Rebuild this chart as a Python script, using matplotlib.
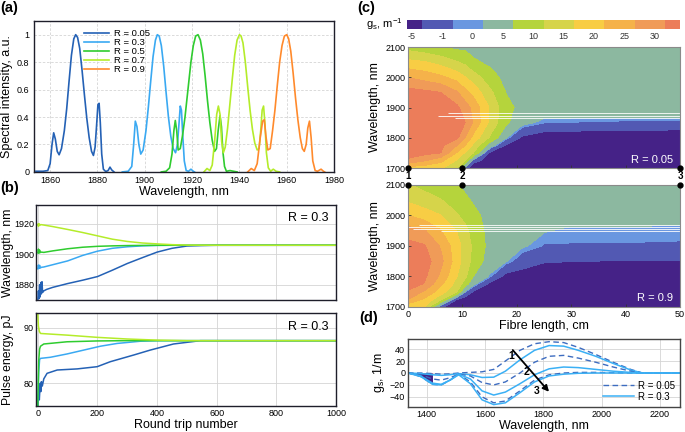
import numpy as np
import matplotlib
matplotlib.use("Agg")
import matplotlib.pyplot as plt
from matplotlib.transforms import offset_copy

plt.rcParams['font.family'] = ['Liberation Sans', 'DejaVu Sans']
plt.rcParams['mathtext.fontset'] = 'custom'
plt.rcParams['mathtext.rm'] = 'Liberation Sans'
plt.rcParams['axes.linewidth'] = 1.0

# ---------------- (a) spectra ----------------
spec_labels = ['R = 0.05', 'R = 0.3', 'R = 0.5', 'R = 0.7', 'R = 0.9']
spec_colors = ['#2461b5', '#3aa9f2', '#2fcc2f', '#b4ec2a', '#ff8a2c']

wl_r005 = [1854, 1857, 1859, 1860, 1860.8, 1861.5, 1862.2, 1863, 1863.8, 1864.8, 1866, 1867, 1868,
           1869, 1870, 1870.8, 1871.6, 1872.5, 1873.5, 1874.5, 1875.5, 1876.5, 1877.5, 1878.3, 1879,
           1879.6, 1880.2, 1880.7, 1881.2, 1881.8, 1882.5, 1883.5, 1884.5, 1885.3, 1886, 1887]
in_r005 = [0.005, 0.005, 0.01, 0.06, 0.2, 0.285, 0.24, 0.15, 0.125, 0.17, 0.3, 0.46, 0.66,
           0.85, 0.97, 1.0, 0.98, 0.9, 0.74, 0.56, 0.39, 0.25, 0.15, 0.12, 0.18,
           0.33, 0.49, 0.5, 0.36, 0.13, 0.02, 0.003, 0.01, 0.035, 0.015, 0.0]

wl_r03 = [1890.5, 1893, 1894.5, 1895.3, 1896, 1896.7, 1897.5, 1898.3, 1899.3, 1900.5, 1901.5, 1902.5,
          1903.5, 1904.5, 1905.3, 1906.1, 1907, 1908, 1909, 1910, 1911, 1912, 1913, 1913.8, 1914.5,
          1915, 1915.5, 1916, 1916.7, 1917.5, 1918.5, 1919.5, 1920.5, 1921]
in_r03 = [0.0, 0.005, 0.04, 0.2, 0.37, 0.33, 0.2, 0.13, 0.16, 0.3, 0.47, 0.66,
          0.84, 0.96, 1.0, 0.99, 0.92, 0.77, 0.58, 0.4, 0.26, 0.17, 0.14, 0.2, 0.36,
          0.48, 0.45, 0.28, 0.08, 0.01, 0.005, 0.02, 0.005, 0.0]

wl_r05 = [1907, 1909, 1910.5, 1911.5, 1912.3, 1912.9, 1913.5, 1914.1, 1915, 1916, 1917, 1918, 1919.5,
          1920.5, 1921.5, 1922.5, 1923.5, 1924.5, 1925.5, 1926.5, 1927.5, 1928.5, 1929.5, 1930.3,
          1931, 1931.8, 1932.4, 1933, 1933.7, 1934.5, 1936, 1937.5, 1939]
in_r05 = [0.0, 0.005, 0.03, 0.13, 0.3, 0.375, 0.3, 0.16, 0.17, 0.27, 0.4, 0.56, 0.8,
          0.92, 0.99, 1.0, 0.96, 0.86, 0.7, 0.52, 0.36, 0.23, 0.15, 0.17,
          0.3, 0.41, 0.33, 0.15, 0.04, 0.005, 0.01, 0.005, 0.0]

wl_r07 = [1925, 1926.3, 1927.5, 1928.5, 1929.5, 1930.4, 1931.1, 1931.8, 1932.5, 1933.2, 1934, 1935,
          1936, 1937, 1938, 1939, 1940, 1940.7, 1941.5, 1942.5, 1943.5, 1944.5, 1945.5, 1946.5,
          1947.5, 1948.3, 1949, 1949.6, 1950.2, 1950.8, 1951.4, 1952.2, 1953.2, 1954.3, 1955.5, 1957]
in_r07 = [0.0, 0.025, 0.01, 0.05, 0.22, 0.42, 0.48, 0.42, 0.22, 0.14, 0.18, 0.32,
          0.5, 0.68, 0.85, 0.96, 1.0, 0.99, 0.94, 0.8, 0.62, 0.45, 0.31, 0.21,
          0.16, 0.17, 0.3, 0.45, 0.48, 0.35, 0.14, 0.03, 0.005, 0.02, 0.005, 0.0]

wl_r09 = [1943.5, 1945, 1946.3, 1947.5, 1948.8, 1949.8, 1950.5, 1951.2, 1952, 1953, 1954, 1955,
          1956, 1957, 1958, 1959, 1960, 1960.8, 1961.7, 1962.7, 1963.7, 1964.7, 1965.7, 1966.6,
          1967.4, 1968.2, 1968.9, 1969.6, 1970.3, 1971, 1972, 1973, 1974.5, 1975.5, 1976]
in_r09 = [0.0, 0.025, 0.01, 0.06, 0.25, 0.37, 0.38, 0.26, 0.16, 0.17, 0.3, 0.45,
          0.63, 0.8, 0.92, 0.99, 1.0, 0.97, 0.88, 0.72, 0.54, 0.38, 0.25, 0.17,
          0.15, 0.2, 0.32, 0.37, 0.25, 0.08, 0.01, 0.005, 0.02, 0.005, 0.0]

# ---------------- (b) evolution over round trips ----------------
evo_colors = ['#2461b5', '#3aa9f2', '#2fcc2f', '#b4ec2a']

rt_wl_dark = [0, 2, 4, 6, 8, 10, 12, 14, 16, 20, 30, 50, 100, 150, 200, 250, 300, 350, 400, 450, 500, 550, 600, 1000]
wl_dark = [1870, 1876, 1871, 1880, 1872, 1881.5, 1874, 1882, 1875, 1876, 1877, 1878.3, 1880.8, 1883,
           1885.4, 1889.6, 1894, 1897.8, 1901.5, 1904, 1905.5, 1905.8, 1906, 1906]
rt_wl_light = [0, 2, 4, 6, 8, 12, 20, 50, 100, 150, 200, 250, 300, 350, 400, 450, 500, 1000]
wl_light = [1890.5, 1893, 1890.8, 1892.8, 1891, 1891.5, 1891.7, 1893.2, 1895.7, 1899.3, 1902.1,
            1904, 1905, 1905.6, 1905.9, 1906, 1906, 1906]
rt_wl_green = [0, 2, 4, 6, 8, 12, 20, 50, 100, 150, 200, 250, 300, 400, 500, 1000]
wl_green = [1901, 1903.5, 1900.8, 1902.8, 1901.2, 1901.5, 1901.3, 1902.3, 1903.7, 1904.7, 1905.3,
            1905.6, 1905.8, 1906, 1906, 1906]
rt_wl_lime = [0, 2, 4, 6, 10, 20, 50, 100, 150, 200, 250, 300, 350, 400, 450, 500, 600, 1000]
wl_lime = [1919.8, 1918.5, 1920.2, 1919, 1919.6, 1919.3, 1918.3, 1916.4, 1914.4, 1912.2, 1910,
           1908.5, 1907.5, 1906.9, 1906.4, 1906.1, 1906, 1906]

rt_en_dark = [0, 3, 5, 8, 10, 12, 15, 20, 31, 65, 132, 199, 243, 321, 377, 455, 545, 600, 1000]
en_dark = [76, 78, 77, 80, 78.5, 80.3, 79.5, 80.8, 81.8, 82.4, 82.6, 83, 83.9, 85.1, 86, 87.1, 87.7, 87.7, 87.7]
rt_en_light = [0, 3, 6, 9, 42, 98, 154, 210, 266, 344, 400, 1000]
en_light = [76, 82, 84.3, 84.5, 84.7, 85.3, 86, 86.7, 87.2, 87.6, 87.7, 87.7]
rt_en_green = [0, 3, 6, 9, 20, 98, 200, 300, 1000]
en_green = [75.9, 84, 86.2, 86.7, 87.1, 87.5, 87.65, 87.7, 87.7]
rt_en_lime = [0, 2, 5, 9, 98, 199, 300, 400, 500, 1000]
en_lime = [92.5, 90.3, 89.4, 89, 88.7, 88.3, 88, 87.8, 87.7, 87.7]

# ---------------- (c) gain maps ----------------
g_levels = [-5, -1, 0, 5, 10, 15, 20, 25, 30]
g_colors = ['#452287', '#5259b3', '#6a97e0', '#8cb8a0', '#b5d43c', '#d6d44a',
            '#f8cd44', '#f5b24a', '#f09b58', '#ec7d5a']
len_cm = [0, 3, 6, 9, 10.5, 12, 15, 18, 21, 25, 30, 40, 50]
wl_nm = [1700, 1725, 1750, 1775, 1800, 1850, 1900, 1950, 2000, 2050, 2100]

g_r005 = [
    [18, 17, 16, 10, -1.5, -10, -10, -10, -10, -10, -10, -10, -10],
    [29, 25.5, 21.5, 14.5, 10, -2, -8, -10, -10, -10, -10, -10, -10],
    [32.5, 31.5, 30, 19.5, 14.5, 10, -5.5, -8, -9, -10, -10, -10, -10],
    [34, 33, 31.5, 25, 20, 14, 2.5, -5.5, -7, -9.5, -9.5, -9.5, -9.5],
    [35, 34.5, 33.5, 31, 25, 18.3, 9.5, 0.3, -5.8, -7.7, -8.06, -8.2, -8.5],
    [35.5, 35, 34, 32.5, 30, 24.5, 14, 6, 1.2, -0.9, -1.1, -1.5, -1.8],
    [34.5, 34, 32.5, 31, 27.5, 23.5, 14.6, 6.5, 3.5, 2.3, 2.5, 2.7, 3.2],
    [32, 31.2, 30, 25.5, 21.5, 18.5, 11.3, 4.9, 3, 3, 3, 3, 3],
    [24.8, 23, 21.1, 18, 15.2, 12.5, 7.1, 3.5, 3, 3, 3, 3, 3],
    [16.3, 15.4, 13.2, 10.3, 8.8, 5.8, 4.0, 3, 3, 3, 3, 3, 3],
    [8, 6.5, 5.1, 3.8, 3.8, 3.2, 3, 3, 3, 3, 3, 3, 3],
]
g_r09 = [
    [16, 15, -3.5, -10, -10, -10, -10, -10, -10, -10, -10, -10, -10],
    [25, 19.2, 11.2, -5, -7, -9, -10, -10, -10, -10, -10, -10, -10],
    [29.5, 24.4, 17.6, 10, -0.5, -5.3, -9, -10, -10, -10, -10, -10, -10],
    [32, 29.7, 21, 13, 7.5, 1, -6, -9, -9, -10, -10, -10, -10],
    [33.5, 31, 24, 15, 11, 5, -0.5, -6.5, -7, -8.5, -9, -9, -9],
    [34, 32.5, 26.5, 17.2, 12.5, 8.6, 2.5, 0.2, -2.8, -4.6, -4.9, -5.2, -5.3],
    [32, 30.5, 24.5, 16.9, 13, 9.1, 3.5, 2.5, 0.4, -1.2, -1.1, -1.1, -1.15],
    [27, 25.5, 20.3, 14.8, 11.5, 7.8, 3.5, 3, 2.5, 0.2, -0.6, -0.65, -0.7],
    [20, 17.6, 15.2, 10.5, 8.2, 6.2, 3.5, 3, 2.8, 2, 1.5, 1.5, 1.5],
    [14.2, 12.2, 10.3, 7.5, 6, 4.5, 3, 3, 3, 2.5, 2.5, 2.5, 2.5],
    [10.5, 8.5, 6.8, 5.3, 3.8, 3, 3, 3, 3, 3, 3, 3, 3],
]
# thin white contour traces near the lasing wavelength
white_y_r005 = [1881, 1873, 1866]
white_x0_r005 = [7.4, 5.5, 8.6]
white_y_r09 = [1968, 1962, 1955, 1949]
white_x0_r09 = [2, 0, 1, 6]
point_pos = [0, 10, 50]
point_lbl = ['1', '2', '3']

# ---------------- (d) gain profiles ----------------
wl_d = [1336, 1380, 1420, 1450, 1480, 1510, 1550, 1590, 1630, 1670, 1720, 1770, 1820, 1870,
        1920, 1980, 2040, 2100, 2140, 2270]
gd_r005_1 = [0, 0, -1, -2, -1.5, 0, 1, 2, 6, 20, 38, 49, 52.5, 51, 43, 31, 18, 6, 0, 0]
gd_r03_1 = [0, -1, -3, -4, -3, -1, -3, -7.5, -7, 3, 22, 38, 46, 45, 38, 28, 16, 5, 0, 0]
gd_r005_2 = [0, -3, -10, -12, -8, -2, -5, -16, -20, -15, 0, 18, 28, 29.5, 25, 18, 10, 3, 0, 0]
gd_r03_2 = [0, -5, -17, -19, -12, -2, -10, -30, -37, -32, -18, -3, 7, 10, 9, 6, 3, 1, 0, 0]
gd_r005_3 = [0, -6, -19, -20, -12, -2, -15, -40, -50, -47, -30, -12, -3, 0, 1, 1, 0.5, 0, 0, 0]
gd_r03_3 = [0, -6, -19, -20, -12, -3, -18, -45, -53, -50, -33, -15, -5, -2, -0.5, 0, 0, 0, 0, 0]
arrow_from = (1689, 42)
arrow_to = (1826, -35)
pos_lbl_xy = [(1690, 29), (1741, 1), (1776, -30)]

# ================= figure =================
fig = plt.figure(figsize=(6.85, 4.32), dpi=100)
frame_col = '#1e1e2a'
grid_kw = dict(color='#d4d4d4', lw=0.6)

# (a)
ax_a = fig.add_axes([0.049, 0.602, 0.4387, 0.3495])
for wl, inten, lbl, col in zip([wl_r005, wl_r03, wl_r05, wl_r07, wl_r09],
                               [in_r005, in_r03, in_r05, in_r07, in_r09],
                               spec_labels, spec_colors):
    ax_a.plot(wl, inten, color=col, lw=1.2, label=lbl)
ax_a.set_xlim(1853, 1980)
ax_a.set_ylim(0, 1.1)
ax_a.set_xticks(range(1860, 1981, 20))
ax_a.set_yticks([0, 0.2, 0.4, 0.6, 0.8, 1])
ax_a.set_yticklabels(['0', '0.2', '0.4', '0.6', '0.8', '1'])
ax_a.grid(True, ls=(0, (3, 2)), **grid_kw)
ax_a.set_axisbelow(True)
ax_a.tick_params(length=0, labelsize=6.5, pad=3)
ax_a.set_xlabel('Wavelength, nm', fontsize=9, labelpad=1)
ax_a.set_ylabel('Spectral intensity, a.u.', fontsize=9)
ax_a.yaxis.set_label_coords(-0.068, 0.5)
ax_a.legend(loc='upper left', bbox_to_anchor=(0.15, 0.985), frameon=False, fontsize=6.8,
            handlelength=2.6, labelspacing=0.0, borderaxespad=0.2, handletextpad=0.5)
for s in ax_a.spines.values():
    s.set_color(frame_col)

# (b) top
ax_b1 = fig.add_axes([0.0526, 0.3056, 0.438, 0.2199])
for rt, wl, col in zip([rt_wl_dark, rt_wl_light, rt_wl_green, rt_wl_lime],
                       [wl_dark, wl_light, wl_green, wl_lime], evo_colors):
    ax_b1.plot(rt, wl, color=col, lw=1.1)
ax_b1.set_xlim(-6, 1000)
ax_b1.set_ylim(1870, 1932.5)
ax_b1.set_yticks([1880, 1900, 1920])
ax_b1.set_xticks(range(0, 1001, 200))
ax_b1.tick_params(length=0, labelsize=6.5, labelbottom=False, pad=1.5)
ax_b1.grid(True, **grid_kw)
ax_b1.set_axisbelow(True)
ax_b1.set_ylabel('Wavelength, nm', fontsize=8.8)
ax_b1.text(0.975, 0.86, 'R = 0.3', transform=ax_b1.transAxes, ha='right', va='center', fontsize=9)

# (b) bottom
ax_b2 = fig.add_axes([0.0526, 0.0602, 0.438, 0.2153])
for rt, en, col in zip([rt_en_dark, rt_en_light, rt_en_green, rt_en_lime],
                       [en_dark, en_light, en_green, en_lime], evo_colors):
    ax_b2.plot(rt, en, color=col, lw=1.1)
ax_b2.set_xlim(-6, 1000)
ax_b2.set_ylim(75.9, 92.7)
ax_b2.set_yticks([80, 90])
ax_b2.set_xticks(range(0, 1001, 200))
ax_b2.tick_params(length=0, labelsize=6.5, pad=2)
ax_b2.grid(True, **grid_kw)
ax_b2.set_axisbelow(True)
ax_b2.set_ylabel('Pulse energy, pJ', fontsize=8.8)
ax_b2.set_xlabel('Round trip number', fontsize=9, labelpad=1)
ax_b2.text(0.975, 0.85, 'R = 0.3', transform=ax_b2.transAxes, ha='right', va='center', fontsize=9)
for ax in (ax_b1, ax_b2):
    ax.yaxis.set_label_coords(-0.073, 0.5)
    for s in ax.spines.values():
        s.set_color(frame_col)

# (c) maps
ax_c1 = fig.add_axes([0.5956, 0.6111, 0.3971, 0.2801])
ax_c2 = fig.add_axes([0.5956, 0.2894, 0.3971, 0.2824])
cf = None
for ax, g, wy, wx0, rtxt in ((ax_c1, g_r005, white_y_r005, white_x0_r005, 'R = 0.05'),
                            (ax_c2, g_r09, white_y_r09, white_x0_r09, 'R = 0.9')):
    cf = ax.contourf(len_cm, wl_nm, np.array(g), levels=g_levels, colors=g_colors, extend='both')
    ax.hlines(wy, wx0, 50, colors='white', lw=0.7, alpha=0.85)
    ax.set_xlim(0, 50)
    ax.set_ylim(1700, 2100)
    ax.set_yticks([1700, 1800, 1900, 2000, 2100])
    ax.set_xticks(range(0, 51, 10))
    ax.tick_params(direction='in', length=2.5, width=0.6, labelsize=6.5, pad=2, color='#333333')
    ax.set_ylabel('Wavelength, nm', fontsize=9, labelpad=3)
    ax.text(0.975, 0.07, rtxt, transform=ax.transAxes, ha='right', va='center',
            fontsize=8, color='white')
    for s in ax.spines.values():
        s.set_color('#8a8a8a')
        s.set_linewidth(0.8)
ax_c1.tick_params(labelbottom=False)
ax_c2.set_xlabel('Fibre length, cm', fontsize=9, labelpad=1)
ax_c1.plot(point_pos, [1700] * len(point_pos), 'o', color='black', ms=3.5, clip_on=False, zorder=10)
ax_c2.plot(point_pos, [2100] * len(point_pos), 'o', color='black', ms=3.5, clip_on=False, zorder=10)
for xp, lbl in zip(point_pos, point_lbl):
    ax_c1.annotate(lbl, (xp, 1700), xytext=(0, -2.5), textcoords='offset points', ha='center',
                   va='top', fontsize=7, fontweight='bold', annotation_clip=False)

cax = fig.add_axes([0.5942, 0.9329, 0.3985, 0.0208])
cb = fig.colorbar(cf, cax=cax, orientation='horizontal', extendrect=True, extendfrac=0.0625)
cb.set_ticks([])
cb.outline.set_visible(False)
lbl_tr = offset_copy(cax.get_xaxis_transform(), fig=fig, x=-7.5, y=-2, units='points')
for lv in g_levels:
    cax.text(lv, 0, str(lv), transform=lbl_tr, ha='center', va='top', fontsize=6.5, color='#333333')
fig.text(0.588, 0.945, r'g$_\mathregular{s}$, m$^\mathregular{-1}$', ha='right', va='center', fontsize=8)

# (d)
ax_d = fig.add_axes([0.5956, 0.0579, 0.3971, 0.1574])
dash_col = '#3d6cc0'
sol_col = '#3bb0f5'
ax_d.fill_between(wl_d[:3], gd_r03_3[:3], 0, color='#452287', lw=0)
ax_d.plot(wl_d, gd_r005_1, color=dash_col, lw=1.0, dashes=(4, 2.5), label='R = 0.05')
ax_d.plot(wl_d, gd_r03_1, color=sol_col, lw=1.1, label='R = 0.3')
for gd in (gd_r005_2, gd_r005_3):
    ax_d.plot(wl_d, gd, color=dash_col, lw=1.0, dashes=(4, 2.5))
for gd in (gd_r03_2, gd_r03_3):
    ax_d.plot(wl_d, gd, color=sol_col, lw=1.1)
ax_d.annotate('', xy=arrow_to, xytext=arrow_from,
              arrowprops=dict(arrowstyle='-|>', color='black', lw=1.3, mutation_scale=9))
for (xl, yl), lbl in zip(pos_lbl_xy, point_lbl):
    ax_d.text(xl, yl, lbl, ha='center', va='center', fontsize=7.5, fontweight='bold')
ax_d.set_xlim(1336, 2269)
ax_d.set_ylim(-57, 57)
ax_d.set_xticks(range(1400, 2201, 200))
ax_d.set_yticks([-40, -20, 0, 20, 40])
ax_d.grid(True, **grid_kw)
ax_d.set_axisbelow(True)
ax_d.tick_params(length=0, labelsize=6.5, pad=2)
ax_d.set_xlabel('Wavelength, nm', fontsize=9, labelpad=1)
ax_d.set_ylabel(r'g$_\mathregular{s}$, 1/m', fontsize=9, labelpad=2)
ax_d.legend(loc='lower right', frameon=False, fontsize=7, handlelength=3.2,
            labelspacing=0.1, borderaxespad=0.15, handletextpad=0.4)
for s in ax_d.spines.values():
    s.set_color('#444444')

# panel letters
for xf, yf, txt in ((0.0, 0.997, '(a)'), (0.0, 0.582, '(b)'), (0.522, 0.997, '(c)'), (0.525, 0.28, '(d)')):
    fig.text(xf, yf, txt, ha='left', va='top', fontsize=10.5, fontweight='bold')

fig.savefig('out.png', dpi=100)
